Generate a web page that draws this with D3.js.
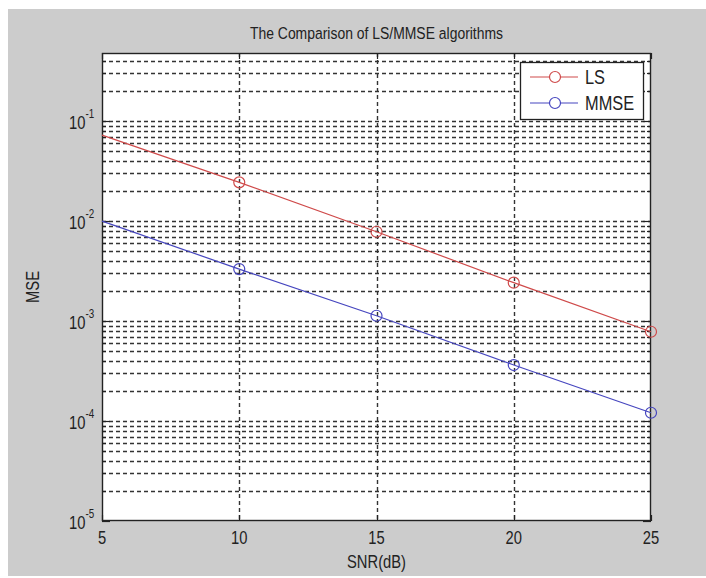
<!DOCTYPE html>
<html>
<head>
<meta charset="utf-8">
<script src="https://cdn.jsdelivr.net/npm/d3@7"></script>
<style>
    body { margin: 0; background: #fff; }
    svg text { font-family: "Liberation Sans", Arial, sans-serif; fill: #222; }
</style>
</head>
<body>
<div id="chart"></div>
<script>
// values
var snr = [5, 10, 15, 20, 25];
var lsMse = [0.0724, 0.0244, 0.00782, 0.00242, 0.000782];
var mmseMse = [0.0100, 0.00331, 0.00113, 0.000363, 0.000121];
var xTicks = [5, 10, 15, 20, 25];
var yDecades = [-5, -4, -3, -2, -1];
var seriesNames = ['LS', 'MMSE'];
var seriesColors = ['#cf4a4a', '#4646bf'];

var width = 706,
    height = 578,
    pLeft = 102, pRight = 651, pTop = 53, pBottom = 521,
    squeeze = 0.82; // the source text is tall and narrow

var svg = d3.select('#chart').append('svg')
    .attr('width', width)
    .attr('height', height);

// text placed at (tx, ty), squeezed sideways
function label(tx, ty, size, rot) {
    return svg.append('text')
        .attr('transform', 'translate(' + tx + ',' + ty + ')' + (rot ? ' rotate(' + rot + ')' : '') + ' scale(' + squeeze + ',1)')
        .attr('font-size', size);
}

// figure background
svg.append('rect').attr('x', 8).attr('y', 9).attr('width', width - 8).attr('height', height - 11)
    .attr('fill', '#cccccc');

var x = d3.scaleLinear().domain([5, 25]).range([pLeft, pRight]);
var y = d3.scaleLog().domain([1e-5, 0.48]).range([pBottom, pTop]);

svg.append('rect').attr('x', pLeft).attr('y', pTop)
    .attr('width', pRight - pLeft).attr('height', pBottom - pTop)
    .attr('fill', '#fff');

var grid = svg.append('g').attr('stroke', '#333').attr('stroke-width', 1.4)
    .attr('stroke-dasharray', '4,3');

grid.selectAll('line.h')
    .data(y.ticks().filter(function (v) { return y(v) < pBottom - 1 && y(v) > pTop + 1; }))
    .enter().append('line')
    .attr('x1', pLeft).attr('x2', pRight)
    .attr('y1', function (v) { return Math.round(y(v)) + 0.5; })
    .attr('y2', function (v) { return Math.round(y(v)) + 0.5; });

grid.selectAll('line.v')
    .data(xTicks.slice(1, -1))
    .enter().append('line')
    .attr('y1', pTop).attr('y2', pBottom)
    .attr('x1', function (v) { return Math.round(x(v)) + 0.5; })
    .attr('x2', function (v) { return Math.round(x(v)) + 0.5; });

// inward ticks on all four sides
var ticks = svg.append('g').attr('stroke', '#222').attr('stroke-width', 1.2);
xTicks.forEach(function (v) {
    var px = Math.round(x(v)) + 0.5;
    ticks.append('line').attr('x1', px).attr('x2', px).attr('y1', pBottom).attr('y2', pBottom - 6);
    ticks.append('line').attr('x1', px).attr('x2', px).attr('y1', pTop).attr('y2', pTop + 6);
});
y.ticks().forEach(function (v) {
    var py = Math.round(y(v)) + 0.5,
        major = Math.abs(Math.log10(v) - Math.round(Math.log10(v))) < 1e-9,
        len = major ? 8 : 4;
    ticks.append('line').attr('x1', pLeft).attr('x2', pLeft + len).attr('y1', py).attr('y2', py);
    ticks.append('line').attr('x1', pRight).attr('x2', pRight - len).attr('y1', py).attr('y2', py);
});

svg.append('rect').attr('x', pLeft + 0.5).attr('y', pTop + 0.5)
    .attr('width', pRight - pLeft - 1).attr('height', pBottom - pTop - 1)
    .attr('fill', 'none').attr('stroke', '#222').attr('stroke-width', 1.4);

// tick labels
xTicks.forEach(function (v) {
    label(x(v), pBottom + 23, 18).attr('text-anchor', 'middle').text(v);
});

yDecades.forEach(function (k) {
    var t = label(69, y(Math.pow(10, k)) + 8, 18);
    t.append('tspan').text('10');
    t.append('tspan').attr('font-size', 12).attr('dy', -11).text(k);
});

label((pLeft + pRight) / 2, 568, 18).attr('text-anchor', 'middle').text('SNR(dB)');
label(39, (pTop + pBottom) / 2, 18, -90).attr('text-anchor', 'middle').text('MSE');
label((pLeft + pRight) / 2, 39, 17).attr('text-anchor', 'middle').text('The Comparison of LS/MMSE algorithms');

// series
var series = [lsMse, mmseMse];
var line = d3.line()
    .x(function (d) { return x(d[0]); })
    .y(function (d) { return y(d[1]); });

series.forEach(function (vals, i) {
    var pts = d3.zip(snr, vals);
    svg.append('path').datum(pts)
        .attr('d', line)
        .attr('fill', 'none')
        .attr('stroke', seriesColors[i])
        .attr('stroke-width', 1.2);
    svg.selectAll('circle.s' + i)
        .data(pts.filter(function (d) { return d[0] > 5; }))
        .enter().append('circle')
        .attr('cx', function (d) { return x(d[0]); })
        .attr('cy', function (d) { return y(d[1]); })
        .attr('r', 5.5)
        .attr('fill', 'none')
        .attr('stroke', seriesColors[i])
        .attr('stroke-width', 1.2);
});

// legend
var legend = svg.append('g');
legend.append('rect').attr('x', 520.5).attr('y', 62.5).attr('width', 123).attr('height', 57)
    .attr('fill', '#fff').attr('stroke', '#222').attr('stroke-width', 1.3);
seriesNames.forEach(function (name, i) {
    var ly = 77 + i * 26;
    legend.append('line').attr('x1', 530).attr('x2', 578).attr('y1', ly).attr('y2', ly)
        .attr('stroke', seriesColors[i]).attr('stroke-width', 1.2);
    legend.append('circle').attr('cx', 555).attr('cy', ly).attr('r', 5.5)
        .attr('fill', '#fff').attr('stroke', seriesColors[i]).attr('stroke-width', 1.2);
    label(585, ly + 7, 20).text(name);
});
</script>
</body>
</html>
